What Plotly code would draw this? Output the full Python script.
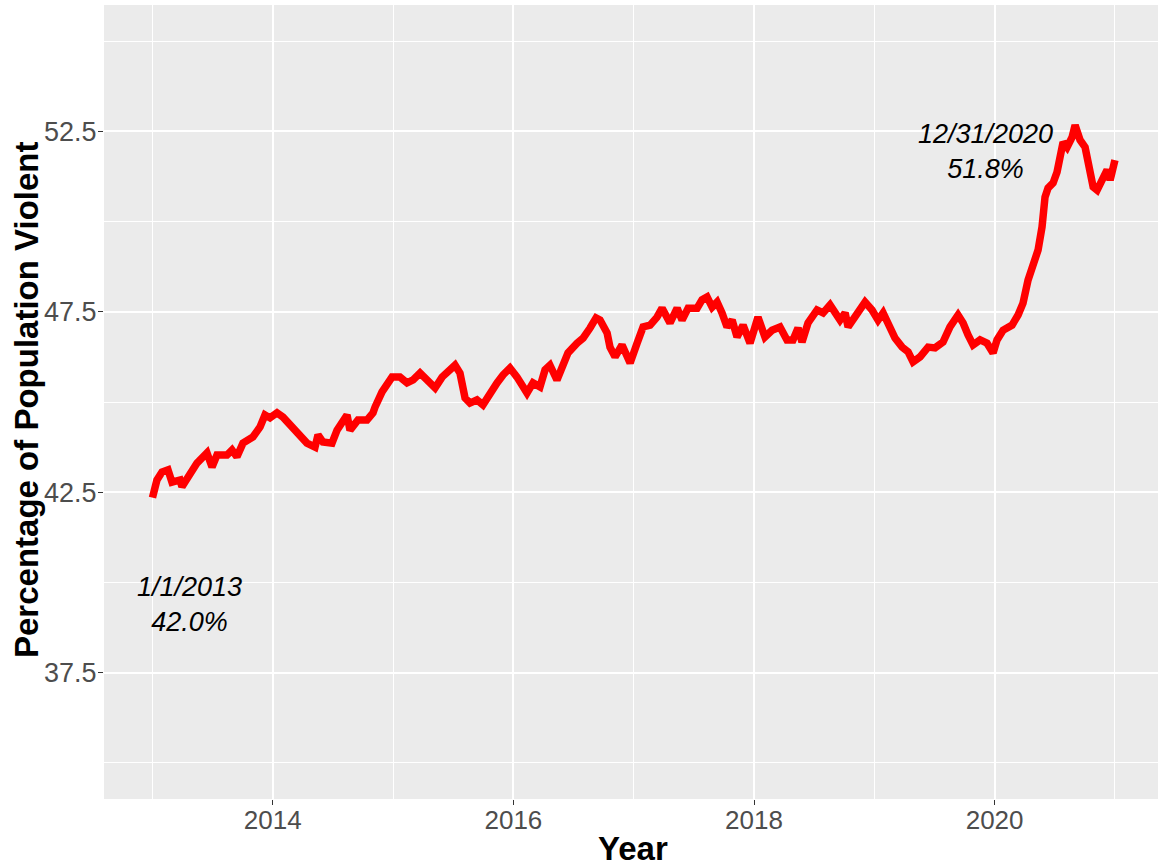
import plotly.graph_objects as go

# Decimal year of each reading and percentage of population violent
years = [
    2013.00, 2013.037, 2013.079, 2013.129, 2013.162, 2013.229, 2013.245, 2013.312, 2013.370, 2013.453,
    2013.495, 2013.536, 2013.619, 2013.661, 2013.702, 2013.752, 2013.835, 2013.894, 2013.935, 2013.977,
    2014.035, 2014.085, 2014.160, 2014.226, 2014.284, 2014.351, 2014.376, 2014.417, 2014.492, 2014.534,
    2014.617, 2014.642, 2014.708, 2014.783, 2014.833, 2014.850, 2014.908, 2014.991, 2015.057, 2015.116,
    2015.166, 2015.224, 2015.282, 2015.349, 2015.407, 2015.456, 2015.515, 2015.556, 2015.598, 2015.639,
    2015.697, 2015.747, 2015.806, 2015.864, 2015.914, 2015.972, 2016.030, 2016.080, 2016.113, 2016.163,
    2016.221, 2016.263, 2016.304, 2016.362, 2016.412, 2016.454, 2016.529, 2016.579, 2016.637, 2016.687,
    2016.720, 2016.779, 2016.803, 2016.845, 2016.903, 2016.970, 2017.028, 2017.078, 2017.136, 2017.194,
    2017.236, 2017.302, 2017.361, 2017.402, 2017.452, 2017.527, 2017.568, 2017.610, 2017.652, 2017.693,
    2017.734, 2017.776, 2017.818, 2017.859, 2017.909, 2017.967, 2018.033, 2018.091, 2018.150, 2018.216,
    2018.274, 2018.324, 2018.366, 2018.399, 2018.449, 2018.524, 2018.574, 2018.632, 2018.715, 2018.757,
    2018.782, 2018.857, 2018.923, 2018.981, 2019.031, 2019.073, 2019.131, 2019.172, 2019.231, 2019.281,
    2019.322, 2019.380, 2019.447, 2019.505, 2019.571, 2019.629, 2019.696, 2019.738, 2019.779, 2019.821,
    2019.879, 2019.937, 2019.987, 2020.020, 2020.070, 2020.145, 2020.195, 2020.211, 2020.236, 2020.278,
    2020.319, 2020.361, 2020.394, 2020.419, 2020.444, 2020.486, 2020.519, 2020.544, 2020.569, 2020.602,
    2020.644, 2020.669, 2020.710, 2020.752, 2020.777, 2020.819, 2020.852, 2020.893, 2020.935, 2020.960,
    2020.985, 2021.000,
]
values = [
    42.35, 42.84, 43.06, 43.12, 42.78, 42.84, 42.65, 43.03, 43.31, 43.59,
    43.20, 43.53, 43.53, 43.67, 43.48, 43.86, 44.03, 44.31, 44.64, 44.56,
    44.70, 44.58, 44.31, 44.03, 43.86, 43.75, 44.09, 43.89, 43.86, 44.22,
    44.64, 44.22, 44.50, 44.50, 44.70, 44.86, 45.28, 45.69, 45.69, 45.53,
    45.61, 45.80, 45.61, 45.39, 45.69, 45.83, 46.02, 45.80, 45.11, 44.97,
    45.06, 44.92, 45.25, 45.53, 45.75, 45.94, 45.69, 45.42, 45.25, 45.53,
    45.42, 45.89, 46.02, 45.61, 45.97, 46.36, 46.63, 46.77, 47.05, 47.33,
    47.27, 46.91, 46.52, 46.25, 46.58, 46.08, 46.63, 47.08, 47.13, 47.35,
    47.60, 47.19, 47.60, 47.27, 47.60, 47.60, 47.83, 47.91, 47.63, 47.77,
    47.47, 47.08, 47.27, 46.80, 47.13, 46.63, 47.35, 46.80, 46.99, 47.08,
    46.72, 46.72, 47.05, 46.66, 47.19, 47.55, 47.47, 47.69, 47.27, 47.47,
    47.08, 47.47, 47.77, 47.55, 47.27, 47.47, 47.08, 46.77, 46.52, 46.39,
    46.11, 46.25, 46.52, 46.50, 46.66, 47.08, 47.41, 47.19, 46.86, 46.58,
    46.72, 46.63, 46.36, 46.72, 46.99, 47.13, 47.41, 47.55, 47.74, 48.38,
    48.85, 49.21, 49.85, 50.68, 50.93, 51.07, 51.37, 51.90, 52.20, 52.06,
    52.34, 52.67, 52.26, 52.06, 51.62, 50.96, 50.87, 51.15, 51.43, 51.15,
    51.62, 51.70,
]

x_major_ticks = [2014, 2016, 2018, 2020]
x_minor_ticks = [2013, 2015, 2017, 2019, 2021]
y_major_ticks = [37.5, 42.5, 47.5, 52.5]
y_minor_ticks = [35, 40, 45, 50, 55]

start_label = "1/1/2013<br>42.0%"
end_label = "12/31/2020<br>51.8%"
start_pos = (2013.31, 39.4)
end_pos = (2019.92, 51.93)

FONT = "Liberation Sans, Arial"

fig = go.Figure()
fig.add_trace(go.Scatter(
    x=years, y=values, mode="lines",
    line=dict(color="#FF0000", width=7.5),
    showlegend=False,
))

for pos, lab in [(start_pos, start_label), (end_pos, end_label)]:
    fig.add_annotation(x=pos[0], y=pos[1], text="<i>" + lab + "</i>",
                       showarrow=False, font=dict(family=FONT, size=27, color="black"),
                       align="center", xanchor="center", yanchor="middle")

# Axis titles
fig.add_annotation(xref="paper", yref="paper", x=(26 - 104) / 1054, y=(799 - 400) / 794,
                   text="<b>Percentage of Population Violent</b>", textangle=-90,
                   showarrow=False, font=dict(family=FONT, size=33, color="black"),
                   xanchor="center", yanchor="middle")
fig.add_annotation(xref="paper", yref="paper", x=(633 - 104) / 1054, y=(799 - 848) / 794,
                   text="<b>Year</b>", showarrow=False,
                   font=dict(family=FONT, size=33, color="black"),
                   xanchor="center", yanchor="middle")

fig.update_layout(
    width=1158, height=867,
    margin=dict(l=104, r=0, t=5, b=68, autoexpand=False),
    paper_bgcolor="white",
    plot_bgcolor="#EBEBEB",
    font=dict(family=FONT, color="#4D4D4D"),
    xaxis=dict(
        range=[2012.597, 2021.358],
        tickvals=x_major_ticks,
        ticktext=[str(v) for v in x_major_ticks],
        showgrid=True, gridcolor="white", gridwidth=1.8,
        zeroline=False, showline=False, automargin=False,
        ticks="outside", ticklen=5, tickcolor="#333333", tickwidth=1,
        ticklabelstandoff=-7,
        tickfont=dict(size=26, color="#4D4D4D"),
        minor=dict(tickvals=x_minor_ticks, showgrid=True, gridcolor="white", gridwidth=0.9, ticks=""),
    ),
    yaxis=dict(
        range=[34.0, 56.0],
        tickvals=y_major_ticks,
        ticktext=["%.1f" % v for v in y_major_ticks],
        showgrid=True, gridcolor="white", gridwidth=1.8,
        zeroline=False, showline=False, automargin=False,
        ticks="outside", ticklen=5, tickcolor="#333333", tickwidth=1,
        ticklabelstandoff=-4,
        tickfont=dict(size=27, color="#4D4D4D"),
        minor=dict(tickvals=y_minor_ticks, showgrid=True, gridcolor="white", gridwidth=0.9, ticks=""),
    ),
)

fig.write_html("out.html", config={"displayModeBar": False},
               post_script="document.body.style.margin='0';document.body.style.overflow='hidden';")
